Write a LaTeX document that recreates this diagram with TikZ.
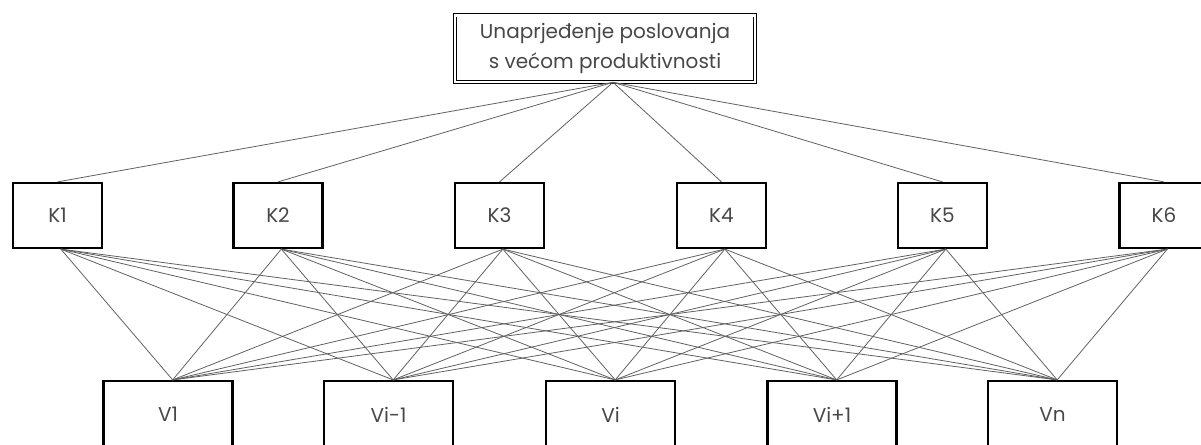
\documentclass[tikz,border=0pt]{standalone}
\usepackage{fontspec}
\setmainfont{Poppins}
\usepackage{tikz}
\usetikzlibrary{positioning}

\begin{document}
\begin{tikzpicture}[
  x=0.75pt, y=-0.75pt,
  font=\fontsize{15}{22}\selectfont, text=black!72,
  goal/.style={rectangle, draw=black, double, double distance=2pt, line width=0.7pt,
               minimum width=225pt, minimum height=50pt, align=center, inner sep=2pt},
  krit/.style={rectangle, draw=black, line width=1.9pt,
               minimum width=67pt, minimum height=48.5pt, align=center},
  vari/.style={rectangle, draw=black, line width=1.9pt,
               minimum width=96.5pt, minimum height=50pt, align=center},
  edge/.style={draw=black!62, line width=0.6pt}
]
\path[use as bounding box, clip] (0,0) rectangle (1201,444);
%% goal
\node[goal] (g_top) at (605, 48.5) {Unaprjeđenje poslovanja\\s većom produktivnosti};
%% criteria
\node[krit] (k1) at (57.5,  215.5) {K1};
\node[krit] (k2) at (278,   215.5) {K2};
\node[krit] (k3) at (499.5, 215.5) {K3};
\node[krit] (k4) at (721.5, 215.5) {K4};
\node[krit] (k5) at (942.5, 215.5) {K5};
\node[krit] (k6) at (1164,  215.5) {K6};
%% variants
\node[vari] (v1) at (168,    414.5) {V1};
\node[vari] (v2) at (388.5,  414.5) {Vi-1};
\node[vari] (v3) at (610.5,  414.5) {Vi};
\node[vari] (v4) at (832,    414.5) {Vi+1};
\node[vari] (v5) at (1052.5, 414.5) {Vn};
%% goal to criteria
\foreach \k in {1,...,6}
  \draw[edge] ([xshift=6pt]g_top.south) -- (k\k.north);
%% criteria to variants
\foreach \k in {1,...,6}
  \foreach \v in {1,...,5}
    \draw[edge] ([xshift=2.5pt]k\k.south) -- ([xshift=3.5pt]v\v.north);
\end{tikzpicture}
\end{document}
